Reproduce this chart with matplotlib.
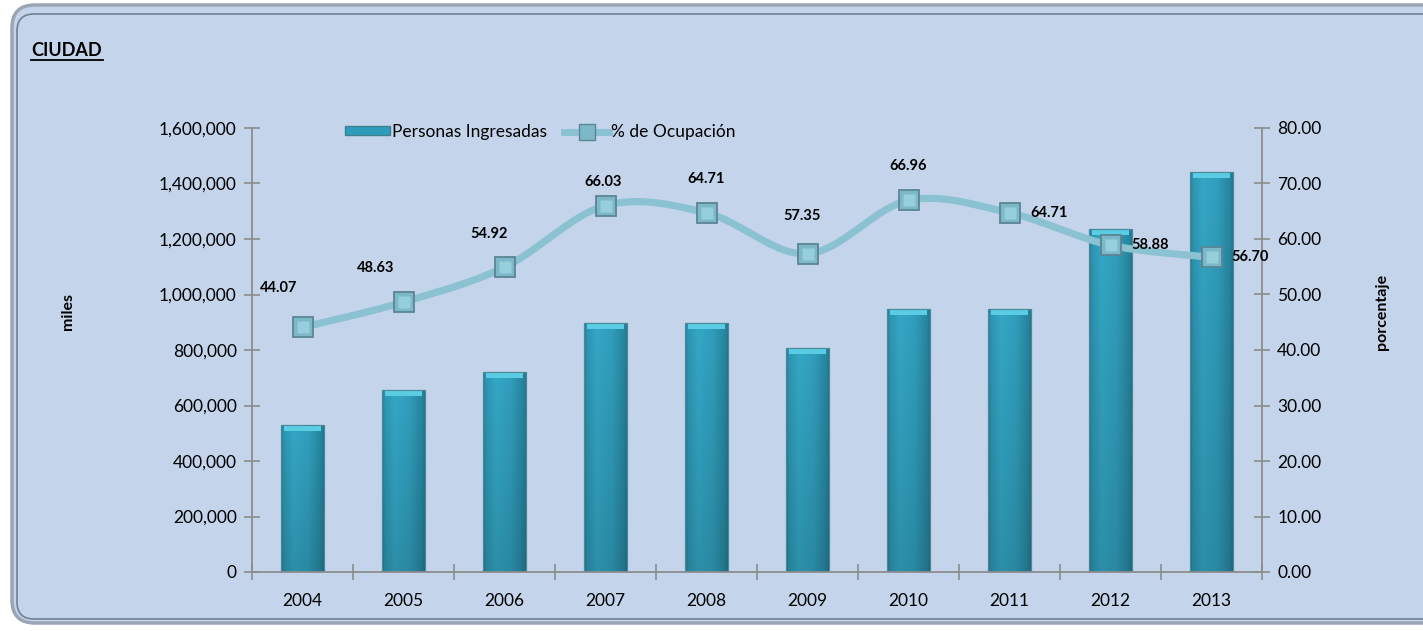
import numpy as np
import matplotlib
matplotlib.use("Agg")
import matplotlib.pyplot as plt
from matplotlib.patches import FancyBboxPatch
from matplotlib.ticker import FuncFormatter, FixedLocator
from matplotlib.lines import Line2D
from matplotlib.patches import Rectangle

# ---------------- data ----------------
years = ["2004", "2005", "2006", "2007", "2008", "2009", "2010", "2011", "2012", "2013"]
personas = [530000, 656000, 721000, 897000, 897000, 807000, 948000, 948000, 1236000, 1441000]
ocupacion = [44.07, 48.63, 54.92, 66.03, 64.71, 57.35, 66.96, 64.71, 58.88, 56.70]
title_text = "CIUDAD"
left_label = "miles"
right_label = "porcentaje"
legend_labels = ["Personas Ingresadas", "% de Ocupación"]

# label offsets in pixels (style only)
lbl_dx = [-24, -28, -15, -2, 0, -5, 0, 21, 21, 20]
lbl_dy = [39, 34, 33, 24, 34, 38, 34, 0, 0, 0]
lbl_ha = ["center"] * 7 + ["left"] * 3

FONT = ["Lato", "DejaVu Sans"]
plt.rcParams["font.family"] = FONT

BG = "#C4D5EB"
W, H = 1423, 631
fig = plt.figure(figsize=(W / 100, H / 100), dpi=100)
fig.patch.set_facecolor("white")

# frame
frame = FancyBboxPatch((12 / W, 8 / H), (W + 30) / W, (H - 13) / H,
                       boxstyle="round,pad=0,rounding_size=0.016",
                       transform=fig.transFigure, facecolor=BG,
                       edgecolor="#9AA6B4", linewidth=2.5, zorder=0,
                       mutation_aspect=W / H)
fig.patches.append(frame)
frame2 = FancyBboxPatch((17 / W, 12 / H), (W + 30) / W, (H - 26) / H,
                        boxstyle="round,pad=0,rounding_size=0.012",
                        transform=fig.transFigure, facecolor="none",
                        edgecolor="#6F8091", linewidth=1.2, zorder=0,
                        mutation_aspect=W / H)
fig.patches.append(frame2)

ax = fig.add_axes([252 / W, 59 / H, 1010 / W, 444 / H])
ax.set_facecolor("none")
ax2 = ax.twinx()
ax.set_zorder(1)
ax2.set_zorder(2)
ax.patch.set_visible(False)

x = np.arange(len(years))
bar_w = 0.42

bars = ax.bar(x, personas, width=bar_w, color="#2E9DBB", edgecolor="#3F7F90",
              linewidth=0.8, zorder=2)

# gradient fill for bars
gx = np.linspace(0, 1, 64)
prof = np.interp(gx, [0, 0.06, 0.3, 0.65, 0.94, 1.0], [0.3, 0.7, 1.0, 0.85, 0.45, 0.25])
dark = np.array([0x1C, 0x6A, 0x80]) / 255
light = np.array([0x34, 0xA7, 0xC6]) / 255
gy = np.linspace(0, 1, 64)[:, None]
img = dark[None, None, :] + (light - dark)[None, None, :] * prof[None, :, None]
img = img * (0.86 + 0.14 * gy[:, :, None])
img = np.clip(img, 0, 1)
for b in bars:
    x0, y0 = b.get_x(), b.get_y()
    im = ax.imshow(img, extent=(x0, x0 + b.get_width(), y0, y0 + b.get_height()),
                   origin="lower", aspect="auto", zorder=2.1, interpolation="bilinear")
    im.set_clip_path(b)
# top bevel
bev = 22000
ax.bar(x, [bev] * len(x), bottom=np.array(personas) - bev, width=bar_w * 0.85,
       color="#5ACDE4", edgecolor="none", zorder=2.2)
ax.bar(x, personas, width=bar_w, color="none", edgecolor="#4E8797", linewidth=0.8, zorder=2.3)

ax.set_xlim(-0.5, len(years) - 0.5)
ax.set_ylim(0, 1600000)
ax.yaxis.set_major_locator(FixedLocator(np.arange(0, 1600001, 200000)))
ax.yaxis.set_major_formatter(FuncFormatter(lambda v, p: f"{int(v):,}"))
ax.set_xticks(x)
ax.set_xticklabels(years)
ax.xaxis.set_minor_locator(FixedLocator(np.arange(-0.5, len(years), 1.0)))

# smooth line (Excel-like Bezier smoothing)
def smooth(xs, ys, n=30):
    xs = np.asarray(xs, float); ys = np.asarray(ys, float)
    px = np.concatenate([[xs[0]], xs, [xs[-1]]])
    py = np.concatenate([[ys[0]], ys, [ys[-1]]])
    ox, oy = [], []
    t = np.linspace(0, 1, n)
    for i in range(1, len(px) - 2):
        p0 = np.array([px[i], py[i]]); p3 = np.array([px[i + 1], py[i + 1]])
        c1 = p0 + (np.array([px[i + 1], py[i + 1]]) - np.array([px[i - 1], py[i - 1]])) / 6
        c2 = p3 - (np.array([px[i + 2], py[i + 2]]) - np.array([px[i], py[i]])) / 6
        pts = ((1 - t)[:, None] ** 3 * p0 + 3 * ((1 - t) ** 2 * t)[:, None] * c1
               + 3 * ((1 - t) * t ** 2)[:, None] * c2 + (t ** 3)[:, None] * p3)
        ox.extend(pts[:, 0]); oy.extend(pts[:, 1])
    return np.array(ox), np.array(oy)

sx, sy = smooth(x, ocupacion)
ax2.plot(sx, sy, color="#8BC2D2", lw=5.2, solid_capstyle="round", zorder=3)
ax2.plot(x, ocupacion, ls="none", marker="s", ms=14.5, mfc="#7DB8C9", mec="#5B8593",
         mew=1.3, zorder=4)
ax2.plot(x, ocupacion, ls="none", marker="s", ms=9, mfc="#A8DDE8", mec="none",
         zorder=4.1, alpha=0.6)
ax2.set_ylim(0, 80)
ax2.yaxis.set_major_locator(FixedLocator(np.arange(0, 81, 10)))
ax2.yaxis.set_major_formatter(FuncFormatter(lambda v, p: f"{v:.2f}"))

for i, v in enumerate(ocupacion):
    ax2.annotate(f"{v:.2f}", (x[i], v), xytext=(lbl_dx[i], lbl_dy[i]),
                 textcoords="offset pixels", ha=lbl_ha[i], va="center",
                 fontsize=10.5, fontweight="bold", color="black", zorder=5)

# axes styling
SP = "#8C8C8C"
for a in (ax, ax2):
    for s in a.spines.values():
        s.set_visible(False)
ax.spines["left"].set_visible(True)
ax.spines["bottom"].set_visible(True)
ax2.spines["right"].set_visible(True)
for s in (ax.spines["left"], ax.spines["bottom"], ax2.spines["right"]):
    s.set_color(SP); s.set_linewidth(1.3); s.set_zorder(2.5)

TS = 12.5
ax.tick_params(axis="y", direction="inout", length=12, width=1.2, color=SP,
               labelsize=TS, pad=5)
ax.tick_params(axis="x", which="major", length=0, labelsize=TS, pad=15)
ax.tick_params(axis="x", which="minor", direction="inout", length=12, width=1.2, color=SP)
ax2.tick_params(axis="y", direction="inout", length=12, width=1.2, color=SP,
                labelsize=TS, pad=5)

fig.text(68 / W, 1 - 312 / H, left_label, rotation=90, ha="center", va="center",
         fontsize=11.5, fontweight="bold")
fig.text(1382 / W, 1 - 312 / H, right_label, rotation=90, ha="center", va="center",
         fontsize=11.5, fontweight="bold")
fig.text(31 / W, 1 - 50 / H, title_text, ha="left", va="center", fontsize=13,
         fontweight="bold")
fig.add_artist(Line2D([31 / W, 103 / W], [1 - 60 / H, 1 - 60 / H], color="black", lw=1.3))

# legend
h1 = Rectangle((0, 0), 1, 1, facecolor="#2E9DBB", edgecolor="#3F7F90")
h2 = Line2D([], [], color="#8BC2D2", lw=5, marker="s", ms=12, mfc="#7DB8C9", mec="#5B8593")
leg = fig.legend([h1, h2], legend_labels, loc="center", bbox_to_anchor=(540 / W, 1 - 132 / H),
                 ncol=2, frameon=False, fontsize=12.5, handlelength=2.6, handletextpad=0.1,
                 columnspacing=1.0, handleheight=0.45)

fig.savefig("out.png", dpi=100, facecolor=fig.get_facecolor())
